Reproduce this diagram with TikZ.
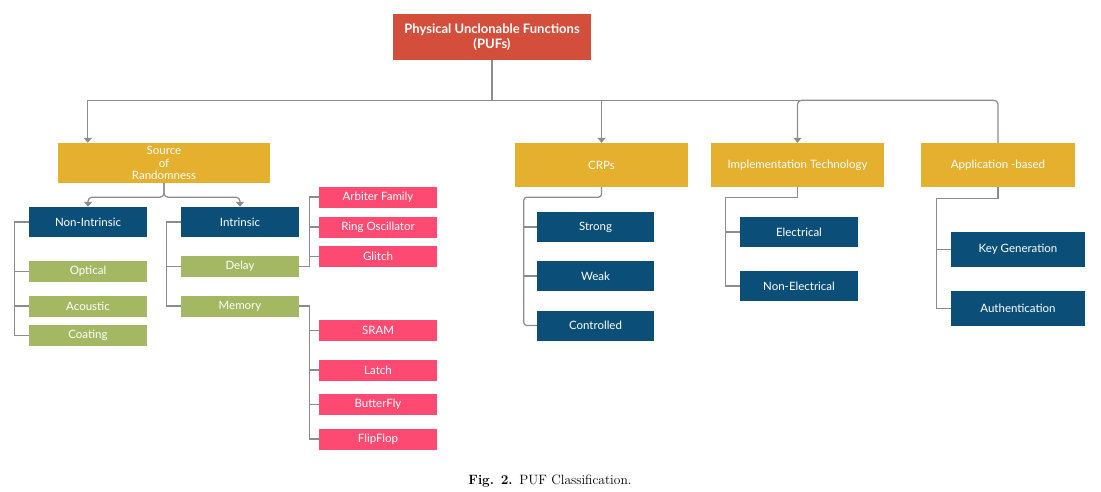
\documentclass[tikz,border=0pt]{standalone}
\usepackage{fontspec}
\newfontfamily\latofont{Lato}
\usepackage{xcolor}
\usetikzlibrary{arrows.meta, positioning, calc}
\definecolor{pufred}{HTML}{D34F3C}
\definecolor{pufyellow}{HTML}{E4B02E}
\definecolor{pufblue}{HTML}{0B4F79}
\definecolor{pufgreen}{HTML}{A4B763}
\definecolor{pufpink}{HTML}{FC4A72}
\definecolor{pufline}{HTML}{8C8C8C}
\begin{document}
\begin{tikzpicture}[x=1pt, y=-1pt,
        box/.style={
                rectangle,
                text=white,
                inner sep=1pt,
                align=center,
                font=\latofont\fontsize{11.5}{12.5}\selectfont,
        },
        rootbox/.style={box, fill=pufred, minimum width=198, minimum height=46,
                font=\latofont\bfseries\fontsize{13}{15}\selectfont},
        catbox/.style={box, fill=pufyellow, minimum height=44},
        typebox/.style={box, fill=pufblue, minimum width=118, minimum height=30},
        greenbox/.style={box, fill=pufgreen, minimum width=118, minimum height=21},
        pinkbox/.style={box, fill=pufpink, minimum width=118, minimum height=21},
        conn/.style={draw=pufline, line width=1.2pt},
        arr/.style={-{Triangle[width=8pt,length=5pt]}},
        ]
        \useasboundingbox (0,0) rectangle (1101,491);
        \node[rootbox] (puf) at (492,37) {Physical Unclonable Functions\\(PUFs)};
        \node[catbox, minimum width=212, minimum height=40] (src) at (164,163) {Source\\of\\Randomness};
        \node[catbox, minimum width=173] (crp) at (601.5,165) {CRPs};
        \node[catbox, minimum width=173] (impl) at (797.5,165) {Implementation Technology};
        \node[catbox, minimum width=154] (app) at (998,165) {Application -based};

        \node[typebox] (nonint) at (88,222) {Non-Intrinsic};
        \node[typebox] (intr) at (240,222) {Intrinsic};
        \node[greenbox] (optical) at (88,271.5) {Optical};
        \node[greenbox] (acoustic) at (88,306) {Acoustic};
        \node[greenbox] (coating) at (88,335.5) {Coating};
        \node[greenbox] (delay) at (240,266.5) {Delay};
        \node[greenbox] (memory) at (240,306) {Memory};

        \node[pinkbox] (arbiter) at (378,197) {Arbiter Family};
        \node[pinkbox] (ring) at (378,227) {Ring Oscillator};
        \node[pinkbox] (glitch) at (378,256.5) {Glitch};
        \node[pinkbox] (sram) at (378,330.5) {SRAM};
        \node[pinkbox] (latch) at (378,370) {Latch};
        \node[pinkbox] (butterfly) at (378,404.5) {ButterFly};
        \node[pinkbox] (flipflop) at (378,439) {FlipFlop};

        \node[typebox, minimum width=117] (strong) at (595.5,227) {Strong};
        \node[typebox, minimum width=117] (weak) at (595.5,276) {Weak};
        \node[typebox, minimum width=117] (controlled) at (595.5,325.5) {Controlled};
        \node[typebox] (elec) at (799,232) {Electrical};
        \node[typebox] (nonelec) at (799,286) {Non-Electrical};
        \node[typebox, minimum width=134, minimum height=35] (keygen) at (1018,249.5) {Key Generation};
        \node[typebox, minimum width=134, minimum height=35] (auth) at (1018,308.5) {Authentication};

        \node (caption) at (550,481) {\fontsize{13.5}{15}\selectfont\textbf{Fig. 2.}\enspace PUF Classification.};

        \draw[conn] (puf.south) -- ++(0,40) coordinate (hub);
        \draw[conn, arr] (hub) -| ([xshift=30]src.north west);
        \draw[conn, arr] (hub) -| (crp.north);
        \draw[conn] (hub) -- ++(372,0);
        \draw[conn, arr, rounded corners=4] (app.north) |- (hub -| impl.north) -- (impl.north);

        \draw[conn, arr, rounded corners=4] (src.south) -- ++(0,14) -| (nonint.north);
        \draw[conn, arr, rounded corners=4] (src.south) -- ++(0,14) -| (intr.north);

        \draw[conn] (nonint.west) -- ++(-14,0) |- (coating.west);
        \foreach \n in {optical, acoustic}
                \draw[conn] (\n.west) -- ++(-14,0);
        \draw[conn] (intr.west) -- ++(-14,0) |- (memory.west);
        \draw[conn] (delay.west) -- ++(-14,0);

        \draw[conn] (delay.east) -- ++(10,0) |- (arbiter.west);
        \foreach \n in {ring, glitch}
                \draw[conn] (\n.west) -- ++(-10,0);
        \draw[conn] (memory.east) -- ++(10,0) |- (flipflop.west);
        \foreach \n in {sram, latch, butterfly}
                \draw[conn] (\n.west) -- ++(-10,0);

        \draw[conn, rounded corners=3] (crp.south) -- ++(0,10) -| ([xshift=-13]controlled.west) -- (controlled.west);
        \foreach \n in {strong, weak}
                \draw[conn] (\n.west) -- ++(-13,0);
        \draw[conn] (impl.south) -- ++(0,10) -| ([xshift=-14]nonelec.west) -- (nonelec.west);
        \draw[conn] (elec.west) -- ++(-14,0);
        \draw[conn] (app.south) -- ++(0,11) -| ([xshift=-14]auth.west) -- (auth.west);
        \draw[conn] (keygen.west) -- ++(-14,0);
\end{tikzpicture}
\end{document}
